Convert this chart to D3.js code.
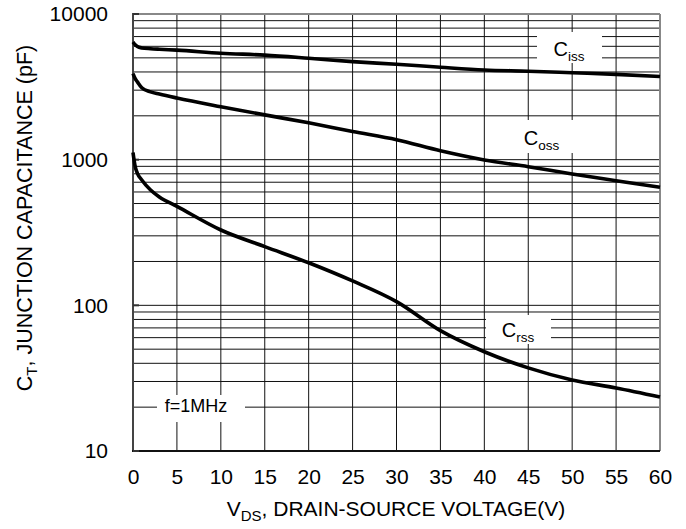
<!DOCTYPE html>
<html>
<head>
<meta charset="utf-8">
<script src="https://cdn.jsdelivr.net/npm/d3@7"></script>
<style>
  html, body { margin: 0; padding: 0; background: #fff; }
  svg { display: block; font-family: "Liberation Sans", Arial, sans-serif; }
</style>
</head>
<body>
<svg id="chart" width="686" height="529"></svg>
<script>
// Drain-source voltage sample points (V)
const vds = [0, 0.25, 0.5, 1, 2, 3, 5, 10, 15, 20, 25, 30, 35, 40, 45, 50, 55, 60];
// Capacitances (pF)
const ciss = [6430, 6150, 5980, 5850, 5780, 5730, 5650, 5380, 5220, 4970, 4710, 4520, 4310, 4130, 4050, 3950, 3850, 3720];
const coss = [3900, 3600, 3420, 3120, 2920, 2820, 2650, 2310, 2030, 1790, 1560, 1370, 1150, 995, 895, 797, 717, 646];
const crss = [1120, 895, 806, 725, 619, 555, 478, 329, 253, 196, 147, 106, 67, 48, 37.2, 30.7, 27.1, 23.5];

const xTicks = [0, 5, 10, 15, 20, 25, 30, 35, 40, 45, 50, 55, 60];
const yTicks = [10, 100, 1000, 10000];

const svg = d3.select("#chart");
const plotL = 133, plotR = 660, plotT = 14, plotB = 451;

const x = d3.scaleLinear().domain([0, 60]).range([plotL, plotR]);
const y = d3.scaleLog().domain([10, 10000]).range([plotB, plotT]);

// grid: every 5 V and every log minor step
const minor = [];
for (let d = 10; d < 10000; d *= 10) for (let k = 1; k < 10; k++) minor.push(d * k);
minor.push(10000);

const grid = svg.append("g");
grid.selectAll("line.h").data(minor).join("line")
  .attr("x1", plotL).attr("x2", plotR)
  .attr("y1", d => y(d)).attr("y2", d => y(d))
  .attr("stroke", "#111").attr("stroke-width", 1);
grid.selectAll("line.v").data(xTicks).join("line")
  .attr("x1", d => x(d)).attr("x2", d => x(d))
  .attr("y1", plotT).attr("y2", plotB)
  .attr("stroke", "#111").attr("stroke-width", 1);

// label boxes knock out the grid behind them
const boxes = [
  {x0: 537, x1: 602, y0: 32, y1: 63},
  {x0: 508, x1: 590, y0: 120, y1: 153},
  {x0: 486, x1: 551, y0: 315, y1: 344},
  {x0: 157, x1: 245, y0: 395, y1: 422}
];
svg.append("g").selectAll("rect").data(boxes).join("rect")
  .attr("x", d => d.x0).attr("y", d => d.y0)
  .attr("width", d => d.x1 - d.x0).attr("height", d => d.y1 - d.y0)
  .attr("fill", "#fff");

// frame
svg.append("line").attr("x1", plotL).attr("x2", plotR).attr("y1", plotT).attr("y2", plotT)
  .attr("stroke", "#888").attr("stroke-width", 2);
svg.append("line").attr("x1", plotR).attr("x2", plotR).attr("y1", plotT).attr("y2", plotB)
  .attr("stroke", "#888").attr("stroke-width", 2);
svg.append("line").attr("x1", plotL).attr("x2", plotL).attr("y1", plotT - 1).attr("y2", plotB + 1)
  .attr("stroke", "#444").attr("stroke-width", 2);
svg.append("line").attr("x1", plotL - 1).attr("x2", plotR).attr("y1", plotB).attr("y2", plotB)
  .attr("stroke", "#111").attr("stroke-width", 2);
// short major ticks at decades
svg.append("g").selectAll("line").data(yTicks).join("line")
  .attr("x1", plotL).attr("x2", plotL + 6)
  .attr("y1", d => y(d)).attr("y2", d => y(d))
  .attr("stroke", "#333").attr("stroke-width", 2);

// tick labels via d3 axes (lines hidden)
const xAxis = svg.append("g").attr("transform", `translate(0,${plotB})`)
  .call(d3.axisBottom(x).tickValues(xTicks).tickSize(0).tickPadding(18).tickFormat(d3.format("d")));
const yAxis = svg.append("g").attr("transform", `translate(${plotL},0)`)
  .call(d3.axisLeft(y).tickValues(yTicks).tickSize(0).tickPadding(25).tickFormat(d3.format("d")));
[xAxis, yAxis].forEach(a => {
  a.select(".domain").remove();
  a.selectAll("text").attr("font-size", 21).attr("fill", "#000")
    .attr("font-family", "Liberation Sans, Arial, sans-serif");
});

// curves
const line = d3.line().x(d => x(d[0])).y(d => y(d[1])).curve(d3.curveMonotoneX);
[ciss, coss, crss].forEach(s => {
  svg.append("path").datum(vds.map((v, i) => [v, s[i]]))
    .attr("d", line).attr("fill", "none")
    .attr("stroke", "#000").attr("stroke-width", 3.6).attr("stroke-linejoin", "round");
});

// series labels with subscripts
function label(cx, by, main, sub) {
  const t = svg.append("text").attr("x", cx).attr("y", by)
    .attr("text-anchor", "middle").attr("font-size", 20).attr("fill", "#000");
  t.append("tspan").text(main);
  t.append("tspan").attr("font-size", 13.5).attr("dy", 5).text(sub);
}
label(569, 56, "C", "iss");
label(541.5, 145, "C", "oss");
label(518, 337, "C", "rss");

svg.append("text").attr("x", 196).attr("y", 412).attr("text-anchor", "middle")
  .attr("font-size", 18).attr("fill", "#000").text("f=1MHz");

// axis titles
const xt = svg.append("text").attr("x", 396).attr("y", 516).attr("text-anchor", "middle")
  .attr("font-size", 21).attr("fill", "#000");
xt.append("tspan").text("V");
xt.append("tspan").attr("font-size", 15).attr("dy", 5).text("DS");
xt.append("tspan").attr("dy", -5).text(", DRAIN-SOURCE VOLTAGE(V)");

const yt = svg.append("text").attr("transform", "translate(32,218) rotate(-90)")
  .attr("text-anchor", "middle").attr("font-size", 21.5).attr("fill", "#000");
yt.append("tspan").text("C");
yt.append("tspan").attr("font-size", 15).attr("dy", 5).text("T");
yt.append("tspan").attr("dy", -5).text(", JUNCTION CAPACITANCE (pF)");
</script>
</body>
</html>
